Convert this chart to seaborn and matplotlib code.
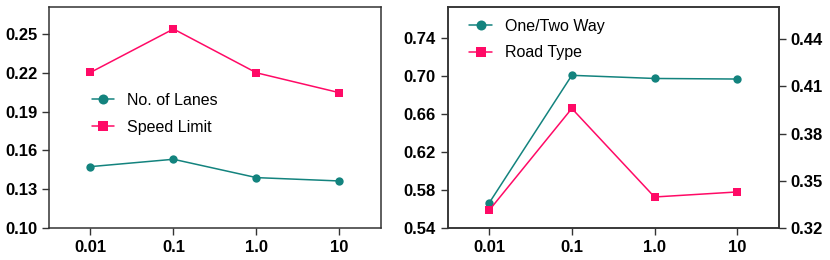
import pandas as pd
import seaborn as sns
import matplotlib.pyplot as plt

# x categories (shared by both panels)
x_labels = ['0.01', '0.1', '1.0', '10']

# left panel
lanes = [0.1475, 0.1532, 0.1390, 0.1364]
speed = [0.2204, 0.2540, 0.2201, 0.2047]

# right panel
one_two_way = [0.5662, 0.7003, 0.6970, 0.6964]   # left axis
road_type = [0.3312, 0.3959, 0.3397, 0.3429]     # right axis

left_ticks = [0.10, 0.13, 0.16, 0.19, 0.22, 0.25]
right_l_ticks = [0.54, 0.58, 0.62, 0.66, 0.70, 0.74]
right_r_ticks = [0.32, 0.35, 0.38, 0.41, 0.44]

TEAL = '#13837e'
PINK = '#ff0a66'
EDGE = '#333333'

sns.set_style('ticks')
plt.rcParams['font.family'] = ['Liberation Sans', 'DejaVu Sans']
plt.rcParams['axes.edgecolor'] = EDGE
plt.rcParams['xtick.color'] = EDGE
plt.rcParams['ytick.color'] = EDGE
plt.rcParams['text.color'] = 'black'

fig = plt.figure(figsize=(8.3, 2.6), dpi=100)
ax1 = fig.add_axes([0.059, 0.123, 0.400, 0.850])
ax2 = fig.add_axes([0.5395, 0.123, 0.3985, 0.850])
ax3 = ax2.twinx()

df_left = pd.DataFrame({'x': x_labels, 'lanes': lanes, 'speed': speed})
df_right = pd.DataFrame({'x': x_labels, 'oneway': one_two_way, 'road': road_type})

line_kw = dict(linewidth=1.1, markersize=6, markeredgewidth=0)

sns.lineplot(data=df_left, x='x', y='lanes', ax=ax1, color=TEAL, marker='o',
             label='No. of Lanes', sort=False, **line_kw)
sns.lineplot(data=df_left, x='x', y='speed', ax=ax1, color=PINK, marker='s',
             label='Speed Limit', sort=False, **line_kw)

sns.lineplot(data=df_right, x='x', y='oneway', ax=ax2, color=TEAL, marker='o',
             label='One/Two Way', sort=False, legend=False, **line_kw)
sns.lineplot(data=df_right, x='x', y='road', ax=ax3, color=PINK, marker='s',
             label='Road Type', sort=False, legend=False, **line_kw)

ax1.set_ylim(0.10, 0.271)
ax1.set_yticks(left_ticks)
ax2.set_ylim(0.54, 0.772)
ax2.set_yticks(right_l_ticks)
ax3.set_ylim(0.32, 0.4603)
ax3.set_yticks(right_r_ticks)

for ax in (ax1, ax2, ax3):
    ax.set_xlim(-0.5, 3.5)
    ax.set_xlabel('')
    ax.set_ylabel('')
    ax.tick_params(length=5, width=1, labelsize=12, labelcolor='black')
    for lab in ax.get_xticklabels() + ax.get_yticklabels():
        lab.set_fontweight('bold')
    for sp in ax.spines.values():
        sp.set_visible(True)
        sp.set_linewidth(1.1)

leg_kw = dict(frameon=False, fontsize=11.5, handlelength=1.4, handletextpad=0.8,
              labelspacing=0.75, markerscale=1.2)

ax1.legend(loc='center left', bbox_to_anchor=(0.086, 0.516), **leg_kw)

h2, l2 = ax2.get_legend_handles_labels()
h3, l3 = ax3.get_legend_handles_labels()
ax2.legend(h2 + h3, l2 + l3, loc='center left', bbox_to_anchor=(0.022, 0.853), **leg_kw)

fig.savefig('out.png', dpi=100)
